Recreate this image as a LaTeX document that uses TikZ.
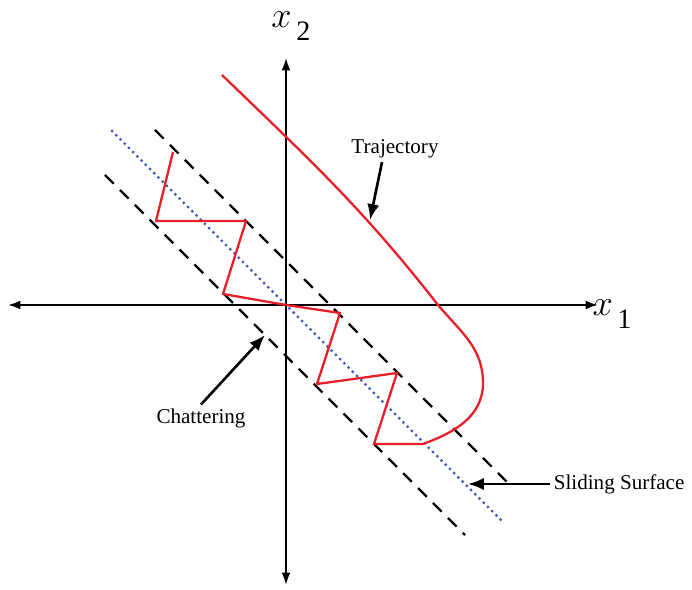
\documentclass[tikz,border=0pt]{standalone}
\usepackage{fontspec}
\setmainfont{Liberation Serif}
\usepackage{xcolor}
\usetikzlibrary{arrows.meta}

\definecolor{trajred}{RGB}{232,30,40}
\definecolor{surfblue}{RGB}{65,88,180}

\newcommand{\axname}[1]{{\fontsize{21}{23}\selectfont$x$}\,\raisebox{-0.45em}{#1}}

\begin{document}
\begin{tikzpicture}[
  x=0.02cm, y=0.02cm,
  axis/.style={line width=1.1pt, {Latex[length=7pt,width=5pt]}-{Latex[length=7pt,width=5pt]}},
  band/.style={line width=1.3pt, dash pattern=on 7pt off 5pt},
  surface/.style={surfblue, line width=1.8pt, line cap=round, dash pattern=on 0pt off 3.4pt},
  redline/.style={trajred, line width=1.3pt, line join=round},
  pointer/.style={-{Latex[length=9pt,width=7pt]}, line width=1.5pt},
  lbl/.style={inner sep=2pt, font=\fontsize{12}{14}\selectfont},
  axlbl/.style={inner sep=0pt, font=\fontsize{16}{18}\selectfont}
]
\useasboundingbox (-286,-285) rectangle (406,305);

% phase plane axes
\coordinate (O) at (0,0);
\coordinate (xl) at (-278,0);
\coordinate (xr) at (312,0);
\coordinate (yt) at (0,247);
\coordinate (yb) at (0,-280);
\draw[axis] (xl) -- (xr);
\draw[axis] (yb) -- (yt);
\node[axlbl] (xone) at (326,-9) {\axname{1}};
\node[axlbl] (xtwo) at (5,279) {\axname{2}};

% boundary layer and sliding surface
\draw[band] (-131,175) -- (221,-177);
\draw[band] (-181,130) -- (179,-230);
\draw[surface] (-174,174) -- (216,-216);

% chattering about the surface
\draw[redline] (-113,153) -- (-130,84) -- (-40,84) -- (-63,11) -- (O)
  -- (54,-8) -- (31,-79) -- (111,-68) -- (88,-139) -- (137,-139);

% reaching phase
\draw[redline] (-64,230) to[out=-44,in=128] (152,0)
  to[out=-50,in=90] (197,-78) to[out=-90,in=20] (137,-139);

% labels
\node[lbl] (traj) at (109,156) {Trajectory};
\node[lbl] (chat) at (-85,-113) {Chattering};
\node[lbl, anchor=west] (slide) at (264,-179) {Sliding Surface};

\coordinate (trajtip) at (84,85);
\coordinate (chattip) at (-21,-30);
\coordinate (slidetip) at (182,-179);
\draw[pointer] ([xshift=-0.26cm]traj.south) -- (trajtip);
\draw[pointer] (chat.north) -- (chattip);
\draw[pointer] (slide.west) -- (slidetip);
\end{tikzpicture}
\end{document}
